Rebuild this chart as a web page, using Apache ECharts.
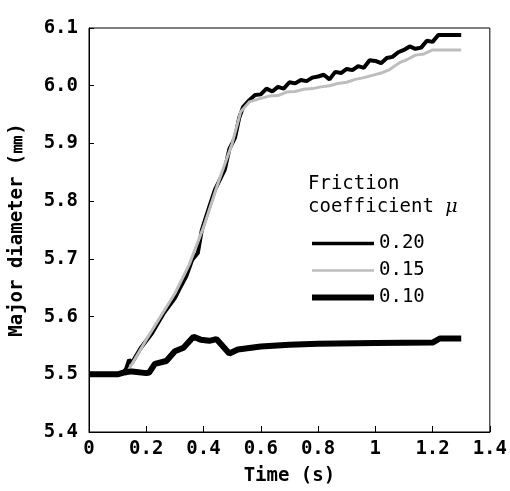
<!DOCTYPE html>
<html>
<head>
<meta charset="utf-8">
<script src="https://cdn.jsdelivr.net/npm/echarts@6/dist/echarts.min.js"></script>
<style>
  html, body { margin: 0; padding: 0; background: #fff; }
  #chart { width: 510px; height: 491px; }
</style>
</head>
<body>
<div id="chart"></div>
<script>
const seriesNames = ["0.20", "0.15", "0.10"];

// mu = 0.20
const time020 = [0, 0.1, 0.12, 0.13, 0.14, 0.15, 0.18, 0.22, 0.26, 0.3, 0.314, 0.34, 0.36, 0.38, 0.394, 0.42, 0.44, 0.474, 0.49, 0.51, 0.525, 0.538, 0.56, 0.58, 0.6, 0.62, 0.64, 0.66, 0.68, 0.7, 0.72, 0.74, 0.76, 0.78, 0.8, 0.82, 0.84, 0.86, 0.88, 0.9, 0.92, 0.94, 0.96, 0.98, 1.0, 1.02, 1.04, 1.06, 1.08, 1.1, 1.12, 1.14, 1.16, 1.18, 1.2, 1.22, 1.3];
const diam020 = [5.5, 5.5, 5.502, 5.51, 5.525, 5.52, 5.545, 5.571, 5.605, 5.632, 5.646, 5.67, 5.698, 5.71, 5.75, 5.79, 5.82, 5.854, 5.89, 5.91, 5.945, 5.963, 5.975, 5.984, 5.985, 5.995, 5.99, 5.998, 5.995, 6.006, 6.004, 6.01, 6.008, 6.014, 6.016, 6.019, 6.011, 6.024, 6.022, 6.029, 6.027, 6.034, 6.031, 6.044, 6.043, 6.039, 6.048, 6.05, 6.058, 6.062, 6.068, 6.064, 6.066, 6.078, 6.076, 6.088, 6.088];

// mu = 0.15
const time015 = [0, 0.13, 0.15, 0.2, 0.25, 0.3, 0.35, 0.4, 0.45, 0.5, 0.53, 0.56, 0.6, 0.63, 0.66, 0.69, 0.72, 0.75, 0.78, 0.81, 0.84, 0.87, 0.9, 0.93, 0.96, 0.99, 1.02, 1.05, 1.085, 1.11, 1.14, 1.17, 1.2, 1.3];
const diam015 = [5.5, 5.5, 5.518, 5.56, 5.6, 5.64, 5.69, 5.755, 5.83, 5.9, 5.955, 5.972, 5.978, 5.982, 5.983, 5.989, 5.99, 5.994, 5.995, 5.998, 6.0, 6.004, 6.006, 6.011, 6.014, 6.018, 6.022, 6.028, 6.04, 6.045, 6.053, 6.055, 6.062, 6.062];

// mu = 0.10
const time010 = [0, 0.1, 0.12, 0.15, 0.2, 0.21, 0.23, 0.27, 0.3, 0.33, 0.365, 0.39, 0.42, 0.445, 0.49, 0.52, 0.6, 0.7, 0.8, 1.0, 1.2, 1.225, 1.3];
const diam010 = [5.5, 5.5, 5.503, 5.505, 5.502, 5.503, 5.518, 5.523, 5.54, 5.546, 5.565, 5.56, 5.558, 5.561, 5.536, 5.543, 5.548, 5.551, 5.553, 5.554, 5.555, 5.562, 5.562];

function pairs(xs, ys) {
  return xs.map((x, i) => [x, ys[i]]);
}

const font = "'DejaVu Sans Mono', monospace";
const hidden = { color: "rgba(0,0,0,0)", borderWidth: 0 };
const chartDom = document.getElementById("chart");
const myChart = echarts.init(chartDom);
const option = {
  backgroundColor: "#fff",
  animation: false,
  grid: {
    left: 86,
    right: 19,
    top: 28,
    bottom: 59,
    show: true,
    borderColor: "#000",
    borderWidth: 1,
  },
  title: {
    text: "Friction\ncoefficient {mu|μ}",
    left: 303,
    top: 168,
    textStyle: {
      fontFamily: font,
      fontSize: 19,
      fontWeight: "normal",
      color: "#000",
      lineHeight: 23,
      rich: {
        mu: { fontFamily: "'DejaVu Serif', serif", fontStyle: "italic", fontSize: 19, lineHeight: 23 },
      },
    },
  },
  legend: {
    data: [
      { name: seriesNames[0], lineStyle: { width: 3.5, color: "#000" }, itemStyle: hidden },
      { name: seriesNames[1], lineStyle: { width: 2.5, color: "#bdbdbd" }, itemStyle: hidden },
      { name: seriesNames[2], lineStyle: { width: 6, color: "#000" }, itemStyle: hidden },
    ],
    orient: "vertical",
    left: 309,
    top: 234,
    padding: 0,
    itemWidth: 62,
    itemHeight: 14,
    itemGap: 8,
    textStyle: { fontFamily: font, fontSize: 19, color: "#000" },
  },
  xAxis: {
    type: "value",
    min: 0,
    max: 1.4,
    interval: 0.2,
    name: "Time (s)",
    nameLocation: "middle",
    nameGap: 35,
    nameTextStyle: { fontFamily: font, fontSize: 19, fontWeight: "bold", color: "#000" },
    axisLine: { lineStyle: { color: "#000" } },
    axisTick: { inside: true, length: 6, lineStyle: { color: "#000" } },
    axisLabel: { fontFamily: font, fontSize: 19, fontWeight: "bold", color: "#000", margin: 8 },
    splitLine: { show: false },
  },
  yAxis: {
    type: "value",
    min: 5.4,
    max: 6.1,
    interval: 0.1,
    name: "Major diameter (㎜)",
    nameLocation: "middle",
    nameGap: 62,
    nameTextStyle: { fontFamily: font, fontSize: 19, fontWeight: "bold", color: "#000" },
    axisLine: { lineStyle: { color: "#000" } },
    axisTick: { inside: true, length: 5, lineStyle: { color: "#000" } },
    axisLabel: {
      fontFamily: font,
      fontSize: 19,
      fontWeight: "bold",
      color: "#000",
      margin: 11,
      formatter: (v) => v.toFixed(1),
    },
    splitLine: { show: false },
  },
  series: [
    {
      name: seriesNames[0],
      type: "line",
      data: pairs(time020, diam020),
      symbol: "none",
      lineStyle: { color: "#000", width: 4 },
      itemStyle: { color: "#000" },
      z: 2,
    },
    {
      name: seriesNames[1],
      type: "line",
      data: pairs(time015, diam015),
      symbol: "none",
      lineStyle: { color: "#bdbdbd", width: 3 },
      itemStyle: { color: "#bdbdbd" },
      z: 3,
    },
    {
      name: seriesNames[2],
      type: "line",
      data: pairs(time010, diam010),
      symbol: "none",
      lineStyle: { color: "#000", width: 6 },
      itemStyle: { color: "#000" },
      z: 4,
    },
  ],
};
myChart.setOption(option);
window.addEventListener("resize", () => {
  myChart.resize();
});
</script>
</body>
</html>
